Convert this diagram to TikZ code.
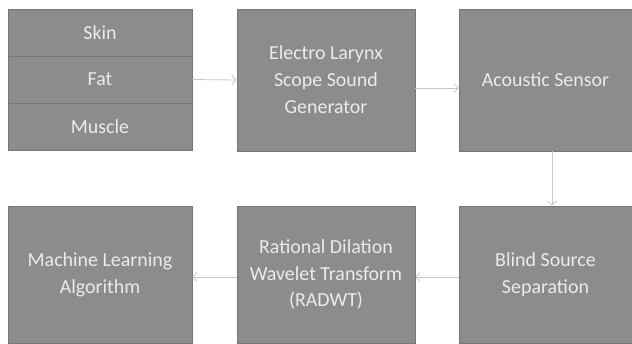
\documentclass[tikz,border=0pt]{standalone}
\usepackage{fontspec}
\setmainfont{Carlito}
\usetikzlibrary{arrows.meta}
\definecolor{boxfill}{HTML}{8C8C8C}
\definecolor{boxline}{HTML}{767676}
\definecolor{boxtext}{HTML}{EBEBEB}
\definecolor{arrowcol}{HTML}{C8C8C8}
\tikzset{
  blk/.style={draw=boxline, line width=0.8bp, fill=boxfill, text=boxtext, align=center,
    font=\fontsize{20}{27}\selectfont, inner sep=0pt},
  conn/.style={draw=arrowcol, line width=0.8bp, -{Straight Barb[length=4bp,width=9bp]}}
}
\begin{document}
\begin{tikzpicture}[x=1bp,y=-1bp]
\useasboundingbox (0,0) rectangle (632,343);
\node[blk, minimum width=184bp, minimum height=47bp] (skin) at (100,32.5) {Skin};
\node[blk, minimum width=184bp, minimum height=47bp] (fat) at (100,79.5) {Fat};
\node[blk, minimum width=184bp, minimum height=47bp] (muscle) at (100,126.5) {Muscle};
\node[blk, minimum width=178bp, minimum height=142bp] (elx) at (326,80) {Electro Larynx\\Scope Sound\\Generator};
\node[blk, minimum width=173bp, minimum height=142bp] (aco) at (545.5,80) {Acoustic Sensor};
\node[blk, minimum width=173bp, minimum height=137bp] (bss) at (545.5,274.5) {Blind Source\\Separation};
\node[blk, minimum width=178bp, minimum height=137bp] (rad) at (326,274.5) {Rational Dilation\\Wavelet Transform\\(RADWT)};
\node[blk, minimum width=184bp, minimum height=137bp] (ml) at (100,274.5) {Machine Learning\\Algorithm};
\draw[conn] (fat.east) -- (elx.west);
\draw[conn] ([yshift=-8bp]elx.east) -- ([yshift=-8bp]aco.west);
\draw[conn] ([xshift=6.5bp]aco.south) -- ([xshift=6.5bp]bss.north);
\draw[conn] ([yshift=-2.5bp]bss.west) -- ([yshift=-2.5bp]rad.east);
\draw[conn] ([yshift=-2.5bp]rad.west) -- ([yshift=-2.5bp]ml.east);
\end{tikzpicture}
\end{document}
